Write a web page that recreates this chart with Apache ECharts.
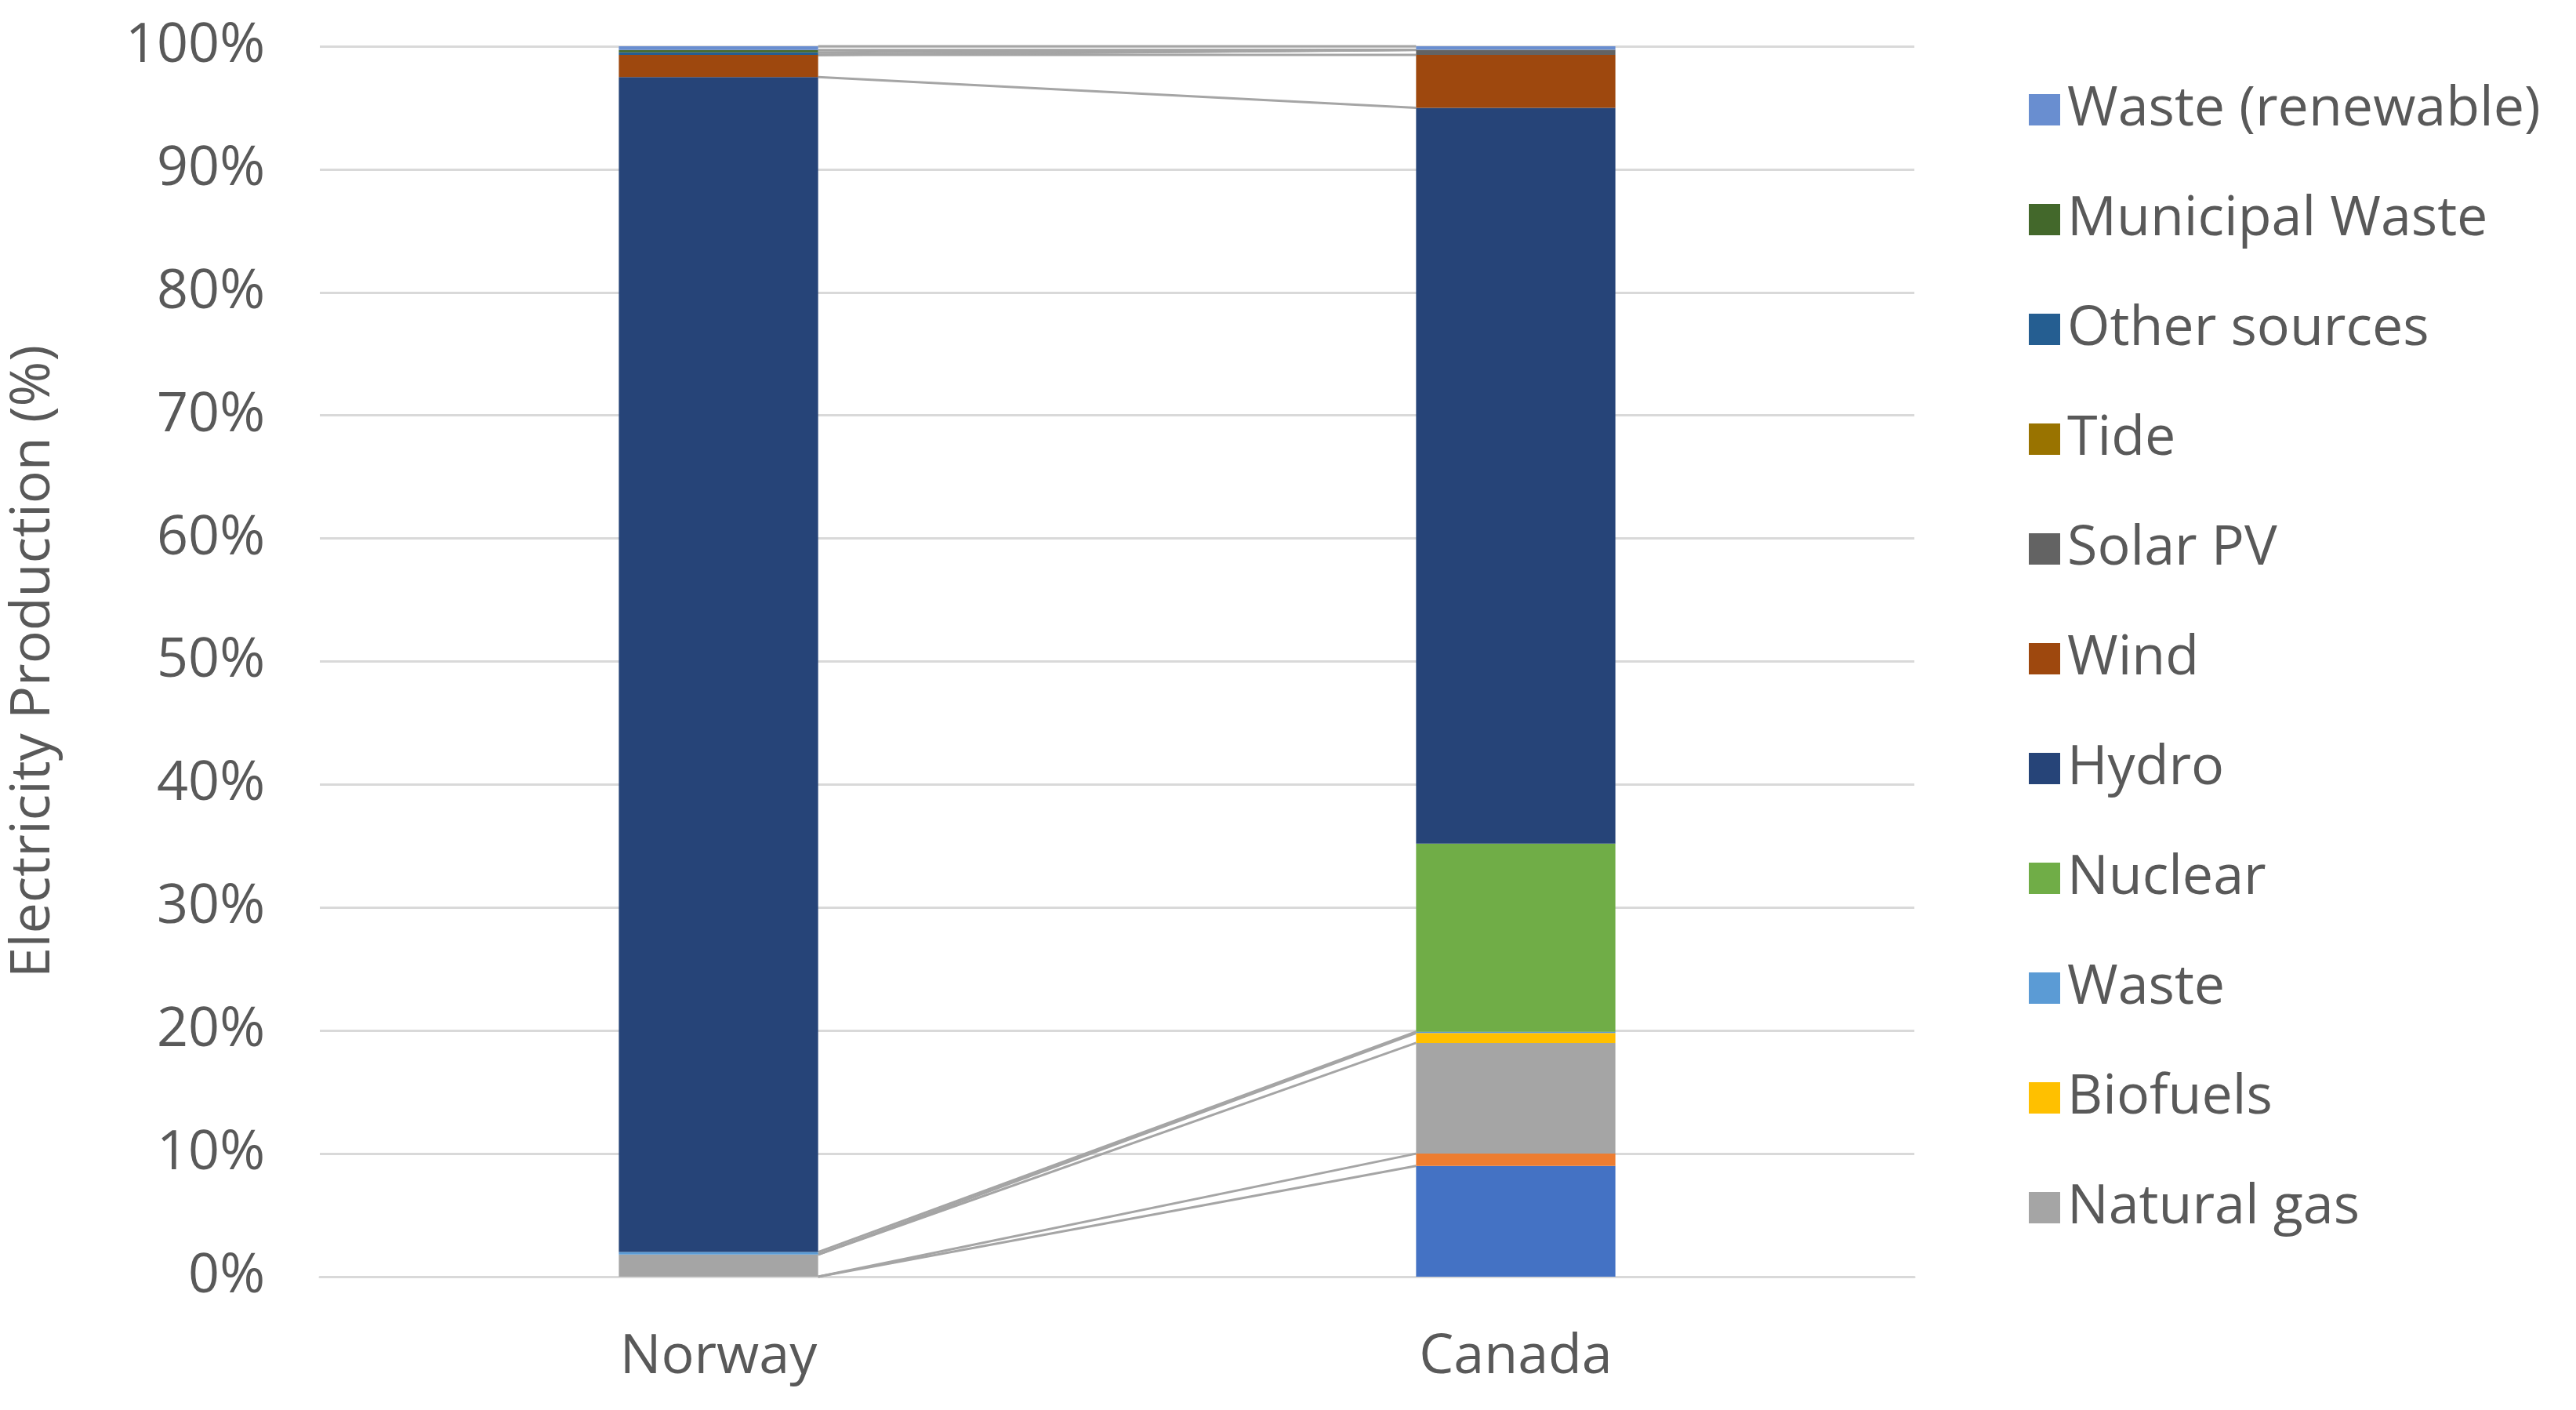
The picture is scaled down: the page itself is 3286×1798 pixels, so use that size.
<!DOCTYPE html>
<html>
<head>
<meta charset="utf-8">
<script src="https://cdn.jsdelivr.net/npm/echarts@6/dist/echarts.min.js"></script>
<style>html,body{margin:0;padding:0;background:#fff}#chart{width:3286px;height:1798px}</style>
</head>
<body>
<div id="chart"></div>
<script>
var countries = ['Norway', 'Canada'];
// stacked bottom to top
var seriesNames = ['Coal', 'Oil', 'Natural gas', 'Biofuels', 'Waste', 'Nuclear', 'Hydro', 'Wind',
    'Solar PV', 'Tide', 'Other sources', 'Municipal Waste', 'Waste (renewable)'];
var colors = ['#4472C4', '#ED7D31', '#A5A5A5', '#FFC000', '#5B9BD5', '#70AD47', '#264478', '#9E480E',
    '#636363', '#997300', '#255E91', '#43682B', '#698ED0'];
// null = no value reported (no connector line drawn)
var norway = [0, 0, 1.8, 0, 0.2, null, 95.5, 1.8, 0, 0, 0.2, 0.2, 0.3];
var canada = [9.0, 1.0, 9.0, 0.8, 0.1, 15.3, 59.8, 4.3, 0.4, 0.01, 0, 0, 0.29];
var yTicks = [0, 10, 20, 30, 40, 50, 60, 70, 80, 90, 100];

var textColor = '#595959';
var font = 'Open Sans';
var fs = 70;

var series = seriesNames.map(function(name, i) {
    return {
        name: name,
        type: 'bar',
        stack: 'total',
        barWidth: '25%',
        itemStyle: { color: colors[i] },
        data: [norway[i] === null ? 0 : norway[i], canada[i]]
    };
});

// connector lines between the tops of each segment (Excel-style series lines)
var tops = [];
var sumN = 0, sumC = 0;
for (var i = 0; i < seriesNames.length; i++) {
    sumN += norway[i] || 0;
    sumC += canada[i];
    if (norway[i] !== null) tops.push([sumN, sumC]);
}
series.push({
    type: 'custom',
    name: 'lines',
    silent: true,
    renderItem: function(params, api) {
        var t = tops[params.dataIndex];
        var w = api.size([1, 0])[0] * 0.125;
        var p1 = api.coord([0, Math.min(t[0], 100)]);
        var p2 = api.coord([1, Math.min(t[1], 100)]);
        return {
            type: 'line',
            shape: { x1: p1[0] + w, y1: p1[1], x2: p2[0] - w, y2: p2[1] },
            style: { stroke: '#A5A5A5', lineWidth: 3 }
        };
    },
    data: tops.map(function(t, i) { return i; }),
    z: 1
});

var chart = echarts.init(document.getElementById('chart'));
chart.setOption({
    animation: false,
    textStyle: { fontFamily: font },
    grid: { left: 388, right: 844, top: 59, bottom: 170 },
    legend: {
        orient: 'vertical',
        left: 2583,
        top: 100,
        icon: 'rect',
        itemWidth: 40,
        itemHeight: 40,
        itemGap: 70,
        data: seriesNames.slice(2).reverse(),
        textStyle: { fontSize: fs, color: textColor, fontFamily: font, padding: [0, 0, 0, 4] }
    },
    xAxis: {
        type: 'category',
        data: countries,
        axisLine: { lineStyle: { color: '#D9D9D9', width: 3 } },
        axisTick: { show: false },
        axisLabel: { fontSize: fs, color: textColor, margin: 68 }
    },
    yAxis: {
        type: 'value',
        min: 0,
        max: 100,
        interval: 10,
        name: 'Electricity Production (%)',
        nameLocation: 'middle',
        nameGap: 330,
        nameTextStyle: { fontSize: fs, color: textColor },
        axisLine: { show: false },
        axisTick: { show: false },
        splitLine: { lineStyle: { color: '#D9D9D9', width: 3 } },
        axisLabel: {
            fontSize: fs, color: textColor, margin: 70,
            formatter: function(v) { return yTicks.indexOf(v) >= 0 ? v + '%' : ''; }
        }
    },
    series: series
});
</script>
</body>
</html>
